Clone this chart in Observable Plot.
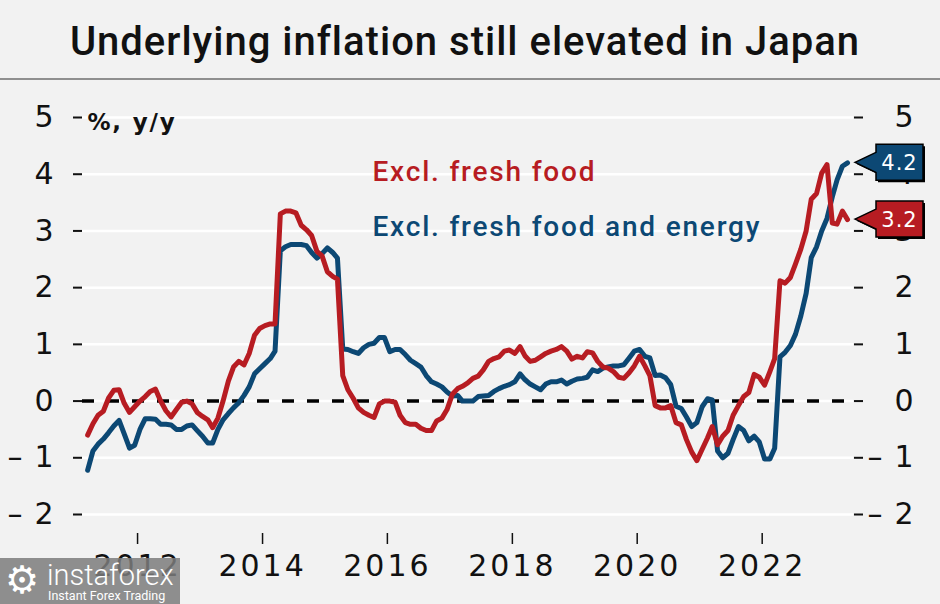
<!DOCTYPE html>
<html><head><meta charset="utf-8">
<script src="https://cdn.jsdelivr.net/npm/d3@7"></script>
<script src="https://cdn.jsdelivr.net/npm/@observablehq/plot@0.6"></script>
<style>
html,body{margin:0;padding:0;background:#f2f2f2;}
#wrap{position:relative;width:940px;height:604px;overflow:hidden;background:#f2f2f2;}
#title{position:absolute;left:0;top:18px;width:930px;text-align:center;font-family:Roboto;font-weight:500;font-size:40px;letter-spacing:1px;color:#111;white-space:nowrap;line-height:normal;}
#sep{position:absolute;left:0;top:78px;width:940px;height:2px;background:#8f8f8f;}
#chart{position:absolute;left:0;top:81px;}
#chart svg [aria-label$="tick label"]{letter-spacing:3px;}
#chart svg g[aria-label="text"]{letter-spacing:1.8px;}
#wm{position:absolute;left:0;top:558px;width:180px;height:46px;background:rgba(125,125,125,0.85);color:#fff;overflow:hidden;}
#wm .gear{position:absolute;left:5px;top:0px;font-size:38px;font-family:"DejaVu Sans";line-height:44px;}
#wm .brand{position:absolute;left:47px;top:-1px;font-size:29px;font-family:Roboto;font-weight:300;line-height:36px;}
#wm .tag{position:absolute;left:48px;top:31px;font-size:12.5px;font-family:Roboto;line-height:14px;}
</style></head><body>
<div id="wrap">
  <div id="title">Underlying inflation still elevated in Japan</div>
  <div id="sep"></div>
  <div id="chart"></div>
  <div id="wm"><div class="gear">⚙</div><div class="brand">instaforex</div><div class="tag">Instant Forex Trading</div></div>
</div>
<script>
// Monthly data, first month March 2011, last May 2023
const startYear = 2011;
const startMonth = 3;
const seriesNames = ["Excl. fresh food", "Excl. fresh food and energy"];
const exFreshFood = [
  -0.6, -0.4, -0.25, -0.18, 0.05, 0.19, 0.2, -0.04, -0.2, -0.1,
  0.0, 0.08, 0.17, 0.21, 0.0, -0.17, -0.28, -0.15, -0.02, 0.0, -0.05, -0.2,
  -0.27, -0.33, -0.47, -0.3, 0.0, 0.35, 0.6, 0.7, 0.64, 0.84, 1.16, 1.28,
  1.33, 1.36, 1.36, 3.3, 3.35, 3.35, 3.32, 3.1, 3.02, 2.92, 2.64, 2.56,
  2.28, 2.2, 2.15, 0.45, 0.2, 0.05, -0.12, -0.2, -0.25, -0.29, -0.05, 0.0,
  0.0, -0.02, -0.25, -0.38, -0.41, -0.41, -0.48, -0.52, -0.52, -0.35, -0.3, -0.15,
  0.12, 0.22, 0.26, 0.32, 0.4, 0.44, 0.55, 0.7, 0.75, 0.78, 0.88, 0.9,
  0.84, 0.96, 0.8, 0.7, 0.72, 0.78, 0.84, 0.88, 0.91, 0.96, 0.88, 0.74,
  0.79, 0.76, 0.87, 0.85, 0.7, 0.6, 0.58, 0.52, 0.42, 0.4, 0.5, 0.62,
  0.79, 0.62, 0.45, -0.08, -0.12, -0.12, -0.08, -0.38, -0.42, -0.68, -0.9, -1.05,
  -0.85, -0.65, -0.45, -0.77, -0.62, -0.52, -0.25, -0.08, 0.08, 0.15, 0.47, 0.42,
  0.28, 0.52, 0.75, 2.12, 2.08, 2.18, 2.42, 2.68, 3.0, 3.56, 3.66, 4.02,
  4.17, 3.14, 3.12, 3.35, 3.2
];
const exFreshFoodEnergy = [
  -1.22, -0.88, -0.76, -0.67, -0.56, -0.44, -0.34, -0.58, -0.83, -0.78,
  -0.5, -0.31, -0.31, -0.32, -0.41, -0.41, -0.42, -0.5, -0.5, -0.44, -0.42, -0.52,
  -0.62, -0.74, -0.74, -0.5, -0.33, -0.22, -0.12, -0.03, 0.1, 0.25, 0.48, 0.57,
  0.66, 0.75, 0.88, 2.65, 2.72, 2.76, 2.76, 2.76, 2.74, 2.62, 2.52, 2.6,
  2.7, 2.62, 2.52, 0.92, 0.91, 0.87, 0.84, 0.94, 1.0, 1.02, 1.12, 1.12,
  0.87, 0.91, 0.91, 0.82, 0.72, 0.66, 0.6, 0.45, 0.34, 0.3, 0.25, 0.16,
  0.09, 0.1, 0.0, 0.0, 0.0, 0.08, 0.09, 0.1, 0.17, 0.22, 0.26, 0.29,
  0.34, 0.48, 0.38, 0.3, 0.25, 0.2, 0.3, 0.34, 0.34, 0.37, 0.3, 0.35,
  0.39, 0.4, 0.42, 0.55, 0.52, 0.58, 0.6, 0.62, 0.62, 0.64, 0.76, 0.88,
  0.91, 0.79, 0.76, 0.45, 0.46, 0.41, 0.29, -0.09, -0.13, -0.28, -0.45, -0.38,
  -0.1, 0.04, 0.02, -0.88, -1.0, -0.92, -0.68, -0.45, -0.52, -0.7, -0.62, -0.72,
  -1.02, -1.02, -0.83, 0.78, 0.86, 0.98, 1.18, 1.5, 1.9, 2.53, 2.72, 3.0,
  3.22, 3.6, 3.9, 4.14, 4.2
];
const lastValues = [3.2, 4.2];
const yTicks = [-2, -1, 0, 1, 2, 3, 4, 5];
const xTickYears = [2012, 2014, 2016, 2018, 2020, 2022];
const yUnitLabel = "%, y/y";

const RED = "#b71c22";
const BLUE = "#0c4874";

const monthDate = i => new Date(Date.UTC(startYear, startMonth - 1 + i, 15));
const redData = exFreshFood.map((v, i) => ({date: monthDate(i), value: v}));
const blueData = exFreshFoodEnergy.map((v, i) => ({date: monthDate(i), value: v}));
const xTicks = xTickYears.map(y => new Date(Date.UTC(y, 0, 1)));
const fmt = d => d < 0 ? "\u2013\u2009" + (-d) : String(d);

function endLabel(value, color) {
  return (index, scales, values, dimensions) => {
    const g = d3.create("svg:g");
    const y = scales.y(value);
    const x0 = dimensions.width - dimensions.marginRight + 2;
    const bx = x0 + 21, bw = 47, bh = 36, ah = 10;
    const p = `M${x0},${y}L${bx},${y - ah}L${bx},${y - bh / 2}L${bx + bw},${y - bh / 2}L${bx + bw},${y + bh / 2}L${bx},${y + bh / 2}L${bx},${y + ah}Z`;
    g.append("path").attr("d", p).attr("fill", "#000").attr("transform", "translate(2,2)");
    g.append("path").attr("d", p).attr("fill", color).attr("stroke", "#000").attr("stroke-width", 1.5);
    g.append("text").attr("x", bx + bw / 2).attr("y", y).attr("dy", "0.36em")
      .attr("text-anchor", "middle").attr("fill", "#fff").attr("font-size", 21)
      .attr("font-family", "DejaVu Sans").attr("letter-spacing", 1).text(value.toFixed(1));
    return g.node();
  };
}

const plot = Plot.plot({
  width: 940,
  height: 523,
  marginLeft: 82,
  marginRight: 87,
  marginTop: 36,
  marginBottom: 71,
  style: {background: "transparent", fontFamily: "DejaVu Sans", fontSize: "30px", color: "#111", overflow: "visible"},
  x: {type: "utc", domain: [new Date(Date.UTC(2011, 1, 13)), new Date(Date.UTC(2023, 5, 19))]},
  y: {domain: [-2.335, 5]},
  marks: [
    Plot.gridY(yTicks, {stroke: "#fff", strokeOpacity: 1, strokeWidth: 2.5}),
    Plot.ruleY([0], {stroke: "#000", strokeWidth: 3.5, strokeDasharray: "12,13"}),
    Plot.axisY(yTicks, {anchor: "left", tickSize: 9, tickPadding: 17, strokeWidth: 2, tickFormat: fmt, label: null}),
    Plot.axisY(yTicks, {anchor: "right", tickSize: 9, tickPadding: 54, textAnchor: "end", strokeWidth: 2, tickFormat: fmt, label: null}),
    Plot.axisX(xTicks, {anchor: "bottom", tickSize: 11, tickPadding: 10, strokeWidth: 1.5, tickFormat: d3.utcFormat("%Y"), label: null}),
    Plot.lineY(blueData, {x: "date", y: "value", stroke: BLUE, strokeWidth: 5, strokeLinejoin: "round"}),
    Plot.lineY(redData, {x: "date", y: "value", stroke: RED, strokeWidth: 5, strokeLinejoin: "round"}),
    Plot.text([yUnitLabel], {text: d => d, frameAnchor: "top-left", dx: 5, dy: -4, lineAnchor: "top", textAnchor: "start", fontSize: 23, fontFamily: "DejaVu Sans", fontWeight: "bold", fill: "#111"}),
    Plot.text([seriesNames[0]], {text: d => d, frameAnchor: "top-left", dx: 290, dy: 63, lineAnchor: "bottom", textAnchor: "start", fontSize: 28, fontFamily: "Roboto", fontWeight: 500, fill: RED}),
    Plot.text([seriesNames[1]], {text: d => d, frameAnchor: "top-left", dx: 290, dy: 118, lineAnchor: "bottom", textAnchor: "start", fontSize: 28, fontFamily: "Roboto", fontWeight: 500, fill: BLUE}),
    endLabel(lastValues[1], BLUE),
    endLabel(lastValues[0], RED)
  ]
});
document.getElementById("chart").appendChild(plot);
</script>
</body></html>
